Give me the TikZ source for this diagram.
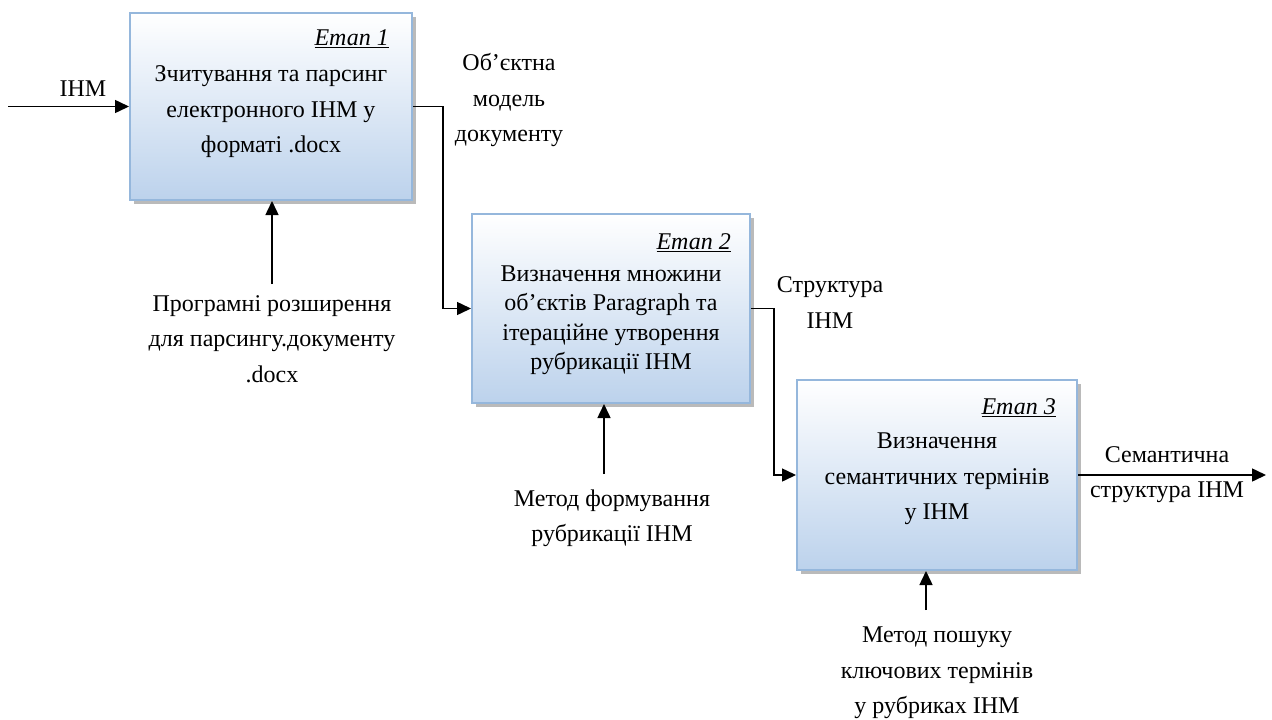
\documentclass[tikz,border=0pt]{standalone}
\usepackage{fontspec}
\setmainfont{Liberation Serif}
\usetikzlibrary{arrows.meta,shadows,positioning}
\definecolor{boxedge}{RGB}{149,183,220}
\definecolor{boxbot}{RGB}{188,210,236}
\tikzset{
  stagebox/.style={draw=boxedge, line width=2pt, top color=white, bottom color=boxbot,
    drop shadow={shadow xshift=3.5pt, shadow yshift=-3.5pt, fill=black!45, opacity=0.6},
    inner sep=0pt},
  txt/.style={font=\fontsize{24}{35.5}\selectfont, align=center, inner sep=0pt},
  txtb/.style={font=\fontsize{24}{29.5}\selectfont, align=center, inner sep=0pt},
  ttl/.style={font=\fontsize{24}{26}\selectfont\itshape, inner sep=0pt, anchor=east},
  flow/.style={line width=1.5pt, -{Triangle[length=14pt,width=13pt]}},
}
\begin{document}
\begin{tikzpicture}[x=1pt,y=-1pt]
\useasboundingbox (0,0) rectangle (1272,720);
% boxes
\node[stagebox, minimum width=282pt, minimum height=187pt] (b1) at (271,106.5) {};
\node[stagebox, minimum width=278pt, minimum height=189pt] (b2) at (611,308.5) {};
\node[stagebox, minimum width=280pt, minimum height=190pt] (b3) at (937,475) {};
% titles
\node[ttl] (t1) at (389,39) {\underline{Етап 1}};
\node[ttl] (t2) at (731,243) {\underline{Етап 2}};
\node[ttl] (t3) at (1056,408) {\underline{Етап 3}};
% box texts
\node[txt] (m1) at (271,112) {Зчитування та парсинг\\електронного ІНМ у\\форматі .docx};
\node[txtb] (m2) at (611,320) {Визначення множини\\об’єктів Paragraph та\\ітераційне утворення\\рубрикації ІНМ};
\node[txt] (m3) at (937,479) {Визначення\\семантичних термінів\\у ІНМ};
% labels
\node[txt] (lin) at (83,89) {ІНМ};
\node[txt] (lo1) at (509,100) {Об’єктна\\модель\\документу};
\node[txt] (lc1) at (272,339) {Програмні розширення\\для парсингу.документу\\.docx};
\node[txt] (lo2) at (830,302.5) {Структура\\ІНМ};
\node[txt] (lc2) at (612,518.5) {Метод формування\\рубрикації ІНМ};
\node[txt] (lo3) at (1167,474.5) {Семантична\\структура ІНМ};
\node[txt] (lc3) at (937,673) {Метод пошуку\\ключових термінів\\у рубриках ІНМ};
% coordinates
\coordinate (in0) at (8,106.5);
\coordinate (c1) at (272,284);
\coordinate (c2) at (604,474);
\coordinate (c3) at (926,610);
\coordinate (out3) at (1266,475);
% connectors
\draw[flow] (in0) -- (b1.west);
\draw[flow] (b1.east) -| ++(30,0) |- (b2.west);
\draw[flow] (b2.east) -| ++(23,0) |- (b3.west);
\draw[flow] (b3.east) -- (out3);
\draw[flow] (c1) -- (c1 |- b1.south);
\draw[flow] (c2) -- (c2 |- b2.south);
\draw[flow] (c3) -- (c3 |- b3.south);
\end{tikzpicture}
\end{document}
